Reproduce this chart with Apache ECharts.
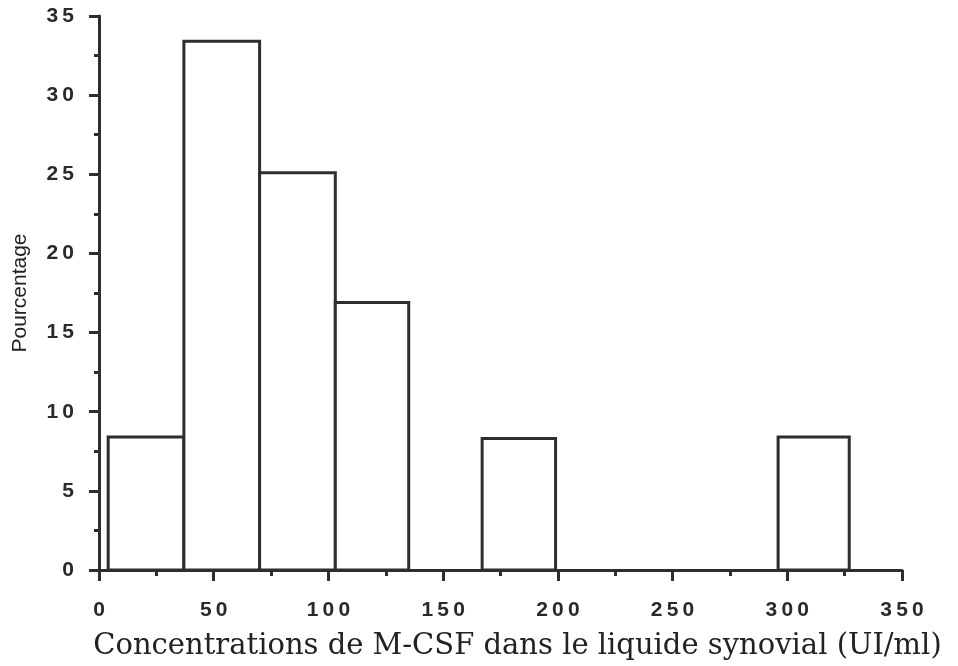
<!DOCTYPE html>
<html>
<head>
<meta charset="utf-8">
<script src="https://cdn.jsdelivr.net/npm/echarts@6/dist/echarts.min.js"></script>
<style>html,body{margin:0;padding:0;background:#fff;}#c{width:958px;height:666px;}</style>
</head>
<body>
<div id="c"></div>
<script>
// Histogram bins (UI/ml) and percentages
var binStart = [4, 37, 70, 103, 167, 296];
var binEnd   = [37, 70, 103, 135, 199, 327];
var percent  = [8.4, 33.4, 25.1, 16.9, 8.3, 8.4];
var xTicks = [0, 50, 100, 150, 200, 250, 300, 350];
var yTicks = [0, 5, 10, 15, 20, 25, 30, 35];
var xTitle = 'Concentrations de M-CSF dans le liquide synovial (UI/ml)';
var yTitle = 'Pourcentage';

var data = binStart.map(function (s, i) { return [s, binEnd[i], percent[i]]; });
function spaced(v) { return String(v).split('').join('\u2009'); }

var chart = echarts.init(document.getElementById('c'), null, {renderer: 'canvas'});
var ink = '#2e2e2e';
chart.setOption({
  animation: false,
  backgroundColor: '#fff',
  grid: {left: 99, right: 56, top: 16, bottom: 95, containLabel: false},
  xAxis: {
    type: 'value', min: 0, max: 350, interval: 50,
    name: xTitle, nameLocation: 'middle', nameGap: 62,
    nameTextStyle: {fontFamily: 'DejaVu Serif', fontSize: 29, color: '#222', padding: [0, 0, 0, 34]},
    axisLine: {show: true, lineStyle: {color: ink, width: 3}},
    axisTick: {show: true, length: 11, lineStyle: {color: ink, width: 3}},
    minorTick: {show: true, splitNumber: 2, length: 6, lineStyle: {color: ink, width: 3}},
    splitLine: {show: false},
    axisLabel: {margin: 30, fontFamily: 'Liberation Sans', fontWeight: 'bold', fontSize: 21, color: '#2a2a2a',
      formatter: function (v) { return spaced(v); }}
  },
  yAxis: {
    type: 'value', min: 0, max: 35, interval: 5,
    name: yTitle, nameLocation: 'middle', nameGap: 68, nameRotate: 90,
    nameTextStyle: {fontFamily: 'Liberation Sans', fontSize: 21, color: '#222'},
    axisLine: {show: true, lineStyle: {color: ink, width: 3}},
    axisTick: {show: true, length: 10, lineStyle: {color: ink, width: 3}},
    minorTick: {show: true, splitNumber: 2, length: 5, lineStyle: {color: ink, width: 3}},
    splitLine: {show: false},
    axisLabel: {margin: 25, fontFamily: 'Liberation Sans', fontWeight: 'bold', fontSize: 21, color: '#2a2a2a',
      padding: [7, 0, 0, 0],
      formatter: function (v) { return spaced(v); }}
  },
  series: [{
    type: 'custom',
    data: data,
    encode: {x: [0, 1], y: 2},
    renderItem: function (params, api) {
      var p0 = api.coord([api.value(0), api.value(2)]);
      var p1 = api.coord([api.value(1), 0]);
      return {
        type: 'rect',
        shape: {x: p0[0], y: p0[1], width: p1[0] - p0[0], height: p1[1] - p0[1]},
        style: {fill: '#fff', stroke: ink, lineWidth: 3}
      };
    },
    z: 1
  }]
});
</script>
</body>
</html>
